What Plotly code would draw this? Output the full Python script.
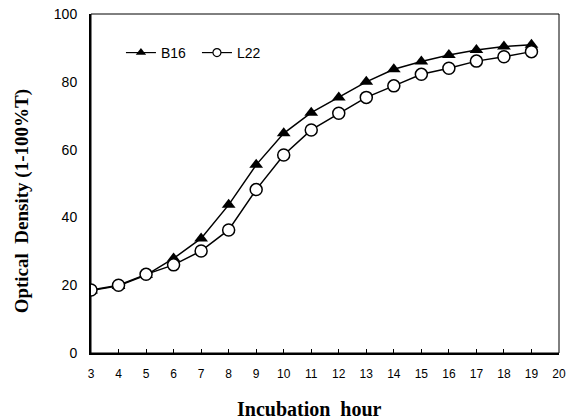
import plotly.graph_objects as go

hours = [3, 4, 5, 6, 7, 8, 9, 10, 11, 12, 13, 14, 15, 16, 17, 18, 19]
b16 = [18.4, 19.8, 23.0, 27.9, 33.8, 43.7, 55.5, 64.8, 70.9, 75.4, 80.0, 83.7, 86.0, 87.9, 89.4, 90.4, 90.9]
l22 = [18.6, 20.0, 23.2, 26.0, 30.1, 36.3, 48.2, 58.4, 65.8, 70.7, 75.4, 78.8, 82.2, 84.0, 86.1, 87.4, 88.9]
x_ticks = list(range(3, 21))
y_ticks = [0, 20, 40, 60, 80, 100]

fig = go.Figure()
fig.add_trace(go.Scatter(
    x=hours, y=b16, name="B16", mode="lines+markers", showlegend=False,
    line=dict(color="black", width=1.5),
    marker=dict(symbol="triangle-up", size=12, color="black"),
))
fig.add_trace(go.Scatter(
    x=hours, y=l22, name="L22", mode="lines+markers", showlegend=False,
    line=dict(color="black", width=1.5),
    marker=dict(symbol="circle", size=12, color="white", line=dict(color="black", width=1.5)),
))
# legend-only entries with smaller symbols, as in the original key
fig.add_trace(go.Scatter(
    x=[None], y=[None], name="B16", mode="lines+markers",
    line=dict(color="black", width=1.2),
    marker=dict(symbol="triangle-up", size=9, color="black"),
))
fig.add_trace(go.Scatter(
    x=[None], y=[None], name="L22", mode="lines+markers",
    line=dict(color="black", width=1.2),
    marker=dict(symbol="circle", size=8, color="white", line=dict(color="black", width=1.2)),
))

serif = "Liberation Serif, Times New Roman, serif"

fig.update_layout(
    width=567, height=420,
    margin=dict(l=91, r=8, t=14, b=67, autoexpand=False),
    paper_bgcolor="white", plot_bgcolor="white",
    font=dict(family="Liberation Sans, Arial", color="black"),
    showlegend=True,
    legend=dict(
        orientation="h", x=0.064, y=0.885, xanchor="left", yanchor="middle",
        bgcolor="rgba(0,0,0,0)", font=dict(size=14, family="Liberation Sans, Arial"),
        itemwidth=30, tracegroupgap=0, entrywidth=31, entrywidthmode="pixels",
    ),
    xaxis=dict(
        range=[3, 20], tickvals=x_ticks, ticktext=[str(v) for v in x_ticks],
        ticks="inside", ticklen=4, tickwidth=1, tickcolor="black",
        showgrid=False, zeroline=False, automargin=False, ticklabelstandoff=9,
        showline=True, linecolor="black", linewidth=2,
        tickfont=dict(size=12, family="Liberation Sans, Arial"),
    ),
    yaxis=dict(
        range=[0, 100], tickvals=y_ticks, ticks="",
        showgrid=False, zeroline=False, automargin=False, ticklabelstandoff=9,
        showline=True, linecolor="black", linewidth=2,
        tickfont=dict(size=14, family="Liberation Sans, Arial"),
    ),
    shapes=[dict(type="rect", xref="paper", yref="paper", x0=0, y0=0, x1=1, y1=1,
                 line=dict(color="black", width=1), layer="below")],
    annotations=[
        dict(text="<b>Incubation  hour</b>", xref="paper", yref="paper",
             x=0.466, y=-0.165, xanchor="center", yanchor="middle", showarrow=False,
             font=dict(size=20, family=serif)),
        dict(text="<b>Optical  Density (1-100%T)</b>", xref="paper", yref="paper",
             x=-0.147, y=0.448, xanchor="center", yanchor="middle", showarrow=False,
             textangle=-90, font=dict(size=19, family=serif)),
    ],
)

fig.write_html("out.html", config={"displayModeBar": False},
               post_script="document.body.style.margin='0';document.body.style.overflow='hidden';")
